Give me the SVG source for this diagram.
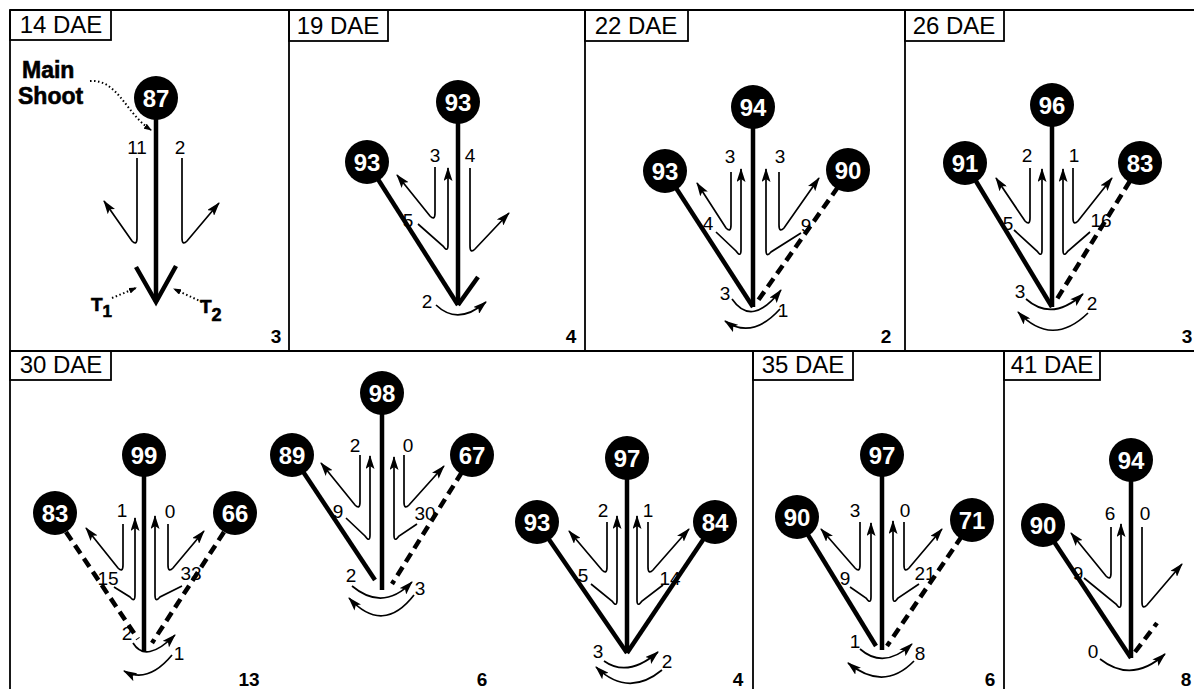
<svg xmlns="http://www.w3.org/2000/svg" width="1194" height="689" viewBox="0 0 1194 689">
<style>
.frame{fill:none;stroke:#000;stroke-width:1.8}
.ttl{font-family:"Liberation Sans",Arial,sans-serif;font-size:24px;fill:#000;text-anchor:middle}
.node circle{fill:#000}
.node text{font-family:"Liberation Sans",Arial,sans-serif;font-weight:bold;font-size:24px;fill:#fff;text-anchor:middle}
.thick{stroke:#000;stroke-width:4.5;fill:none}
.dash{stroke:#000;stroke-width:4.5;fill:none;stroke-dasharray:10 6}
.flow{stroke:#000;stroke-width:1.7;fill:none;marker-end:url(#ah)}
.dot{stroke:#000;stroke-width:2;stroke-dasharray:1.5 2.5;fill:none;marker-end:url(#ahs)}
.lbl{font-family:"Liberation Sans",Arial,sans-serif;font-size:19px;fill:#000;text-anchor:middle}
.cnt{font-family:"Liberation Sans",Arial,sans-serif;font-weight:bold;font-size:19px;fill:#000;text-anchor:middle}
.bold{font-family:"Liberation Sans",Arial,sans-serif;font-weight:bold;fill:#000;stroke:#000;stroke-width:0.6}
</style>
<defs>
<marker id="ah" markerUnits="userSpaceOnUse" viewBox="0 0 14 9" markerWidth="14" markerHeight="9" refX="13" refY="4.5" orient="auto"><path d="M0,0 L14,4.5 L0,9 L3,4.5 z" fill="#000"/></marker>
<marker id="ahs" markerUnits="userSpaceOnUse" viewBox="0 0 8 6" markerWidth="8" markerHeight="6" refX="7" refY="3" orient="auto"><path d="M0,0 L8,3 L0,6 z" fill="#000"/></marker>
</defs>
<rect width="1194" height="689" fill="#fff"/>
<g id="frames">
<path class="frame" d="M10,10 H1194 M10,10 V689 M10,351 H1194 M289,10 V351 M585,10 V351 M905,10 V351 M753,351 V689 M1004,351 V689"/>
<rect class="frame" x="10" y="10" width="101" height="30"/>
<rect class="frame" x="289" y="10" width="99" height="31"/>
<rect class="frame" x="585" y="10" width="103" height="31"/>
<rect class="frame" x="905" y="10" width="99" height="31"/>
<rect class="frame" x="10" y="351" width="101" height="29"/>
<rect class="frame" x="753" y="351" width="100" height="29"/>
<rect class="frame" x="1004" y="351" width="96" height="29"/>
<text class="ttl" x="61" y="33">14 DAE</text>
<text class="ttl" x="338" y="34">19 DAE</text>
<text class="ttl" x="636" y="34">22 DAE</text>
<text class="ttl" x="954" y="34">26 DAE</text>
<text class="ttl" x="61" y="373">30 DAE</text>
<text class="ttl" x="803" y="373">35 DAE</text>
<text class="ttl" x="1052" y="373">41 DAE</text>
</g>
<g id="connectors">
<!-- 14 DAE -->
<line class="thick" x1="156" y1="98" x2="156" y2="302"/>
<polyline class="thick" stroke-width="5" points="136,267 156,302 176,266"/>
<path class="flow" d="M137,158 L137,238 Q137,246 132,241 L104,201"/>
<path class="flow" d="M182,158 L182,238 Q182,246 187,241 L219,203"/>
<path class="dot" d="M90,81 C118,79 126,114 151,130"/>
<path class="dot" d="M112,298 L136,288"/>
<path class="dot" d="M202,302 L174,289"/>
<!-- 19 DAE -->
<line class="thick" x1="458" y1="102" x2="458" y2="305"/>
<line class="thick" x1="367" y1="162" x2="458" y2="305"/>
<line class="thick" stroke-width="5" x1="458" y1="305" x2="478" y2="277"/>
<path class="flow" d="M435,167 L435,213 Q435,221 430,216 L397,175"/>
<path class="flow" d="M418,224 L443,246 Q448,253 448,245 L448,168"/>
<path class="flow" d="M470,168 L470,246 Q470,254 475,249 L509,213"/>
<path class="flow" d="M436,305 Q458,326 486,302"/>
<!-- 22 DAE -->
<line class="thick" x1="753" y1="107" x2="753" y2="307"/>
<line class="thick" x1="665" y1="171" x2="753" y2="307"/>
<line class="dash" x1="838" y1="187" x2="757" y2="302"/>
<path class="flow" d="M731,172 L731,225 Q731,233 726,228 L697,183"/>
<path class="flow" d="M716,232 L736,251 Q741,258 741,250 L741,169"/>
<path class="flow" d="M801,233 L771,252 Q766,258 766,250 L766,169"/>
<path class="flow" d="M779,172 L779,225 Q779,233 784,228 L819,178"/>
<path class="flow" d="M732,299 Q752,328 781,290"/>
<path class="flow" d="M780,309 Q752,340 725,321"/>
<!-- 26 DAE -->
<line class="thick" x1="1052" y1="105" x2="1052" y2="307"/>
<line class="thick" x1="965" y1="163" x2="1052" y2="307"/>
<line class="dash" x1="1130" y1="181" x2="1057" y2="299"/>
<path class="flow" d="M1030,168 L1030,218 Q1030,226 1025,221 L996,178"/>
<path class="flow" d="M1014,230 L1037,251 Q1042,258 1042,250 L1042,169"/>
<path class="flow" d="M1090,232 L1068,251 Q1063,258 1063,250 L1063,169"/>
<path class="flow" d="M1073,168 L1073,218 Q1073,226 1078,221 L1112,178"/>
<path class="flow" d="M1026,299 Q1052,322 1083,294"/>
<path class="flow" d="M1088,313 Q1052,348 1018,312"/>
<!-- 30 DAE a -->
<line class="thick" x1="144" y1="455" x2="144" y2="652"/>
<line class="dash" x1="66" y1="532" x2="138" y2="639"/>
<line class="dash" x1="224" y1="532" x2="152" y2="643"/>
<path class="flow" d="M123,524 L123,565 Q123,573 118,568 L86,528"/>
<path class="flow" d="M114,587 L130,597 Q135,603 135,595 L135,518"/>
<path class="flow" d="M182,586 L160,597 Q155,603 155,595 L155,516"/>
<path class="flow" d="M168,524 L168,565 Q168,573 173,568 L204,531"/>
<path class="flow" d="M133,643 Q146,664 175,635"/>
<path class="flow" d="M172,655 Q148,684 124,671"/>
<!-- 30 DAE b -->
<line class="thick" x1="382" y1="393" x2="382" y2="590"/>
<line class="thick" x1="292" y1="455" x2="375" y2="580"/>
<line class="dash" x1="462" y1="472" x2="392" y2="584"/>
<path class="flow" d="M360,455 L360,502 Q360,510 355,505 L321,463"/>
<path class="flow" d="M346,518 L365,536 Q370,543 370,535 L370,456"/>
<path class="flow" d="M417,524 L399,536 Q394,543 394,535 L394,457"/>
<path class="flow" d="M404,455 L404,502 Q404,510 409,505 L444,466"/>
<path class="flow" d="M352,586 Q383,612 412,582"/>
<path class="flow" d="M414,595 Q383,635 349,598"/>
<!-- 30 DAE c -->
<line class="thick" x1="627" y1="458" x2="627" y2="653"/>
<line class="thick" x1="537" y1="522" x2="627" y2="653"/>
<line class="thick" x1="715" y1="522" x2="627" y2="653"/>
<path class="flow" d="M607,522 L607,567 Q607,575 602,570 L569,531"/>
<path class="flow" d="M591,584 L612,601 Q617,608 617,600 L617,516"/>
<path class="flow" d="M663,585 L642,601 Q637,608 637,600 L637,516"/>
<path class="flow" d="M648,522 L648,567 Q648,575 653,570 L689,529"/>
<path class="flow" d="M604,661 Q628,678 658,652"/>
<path class="flow" d="M662,670 Q628,698 596,667"/>
<!-- 35 DAE -->
<line class="thick" x1="882" y1="455" x2="882" y2="650"/>
<line class="thick" x1="797" y1="517" x2="876" y2="646"/>
<line class="dash" x1="962" y1="536" x2="887" y2="646"/>
<path class="flow" d="M860,522 L860,565 Q860,573 855,568 L821,529"/>
<path class="flow" d="M850,587 L866,598 Q871,605 871,597 L871,523"/>
<path class="flow" d="M919,584 L898,598 Q893,605 893,597 L893,521"/>
<path class="flow" d="M904,522 L904,565 Q904,573 909,568 L942,529"/>
<path class="flow" d="M860,649 Q884,670 912,644"/>
<path class="flow" d="M914,661 Q884,692 848,663"/>
<!-- 41 DAE -->
<line class="thick" x1="1131" y1="460" x2="1131" y2="658"/>
<line class="thick" x1="1043" y1="525" x2="1131" y2="658"/>
<line class="dash" x1="1135" y1="652" x2="1157" y2="623"/>
<path class="flow" d="M1111,527 L1111,573 Q1111,581 1106,576 L1071,533"/>
<path class="flow" d="M1084,578 L1116,604 Q1121,611 1121,603 L1121,524"/>
<path class="flow" d="M1142,527 L1142,602 Q1142,610 1147,605 L1182,564"/>
<path class="flow" d="M1100,659 Q1132,684 1165,654"/>
</g>
<g id="labels">
<text class="bold" font-size="23" x="22" y="78">Main</text>
<text class="bold" font-size="23" x="18" y="104">Shoot</text>
<text class="bold" font-size="19" x="91" y="311">T<tspan font-size="17" dy="6">1</tspan></text>
<text class="bold" font-size="19" x="200" y="313">T<tspan font-size="18" dy="8">2</tspan></text>
<text class="lbl" x="137" y="154">11</text><text class="lbl" x="180" y="154">2</text>
<text class="lbl" x="435" y="162">3</text><text class="lbl" x="470" y="162">4</text><text class="lbl" x="408" y="227">5</text><text class="lbl" x="427" y="308">2</text>
<text class="lbl" x="730" y="163">3</text><text class="lbl" x="780" y="163">3</text><text class="lbl" x="708" y="230">4</text><text class="lbl" x="806" y="232">9</text><text class="lbl" x="725" y="300">3</text><text class="lbl" x="783" y="317">1</text>
<text class="lbl" x="1027" y="162">2</text><text class="lbl" x="1074" y="162">1</text><text class="lbl" x="1008" y="230">5</text><text class="lbl" x="1101" y="227">16</text><text class="lbl" x="1020" y="298">3</text><text class="lbl" x="1092" y="310">2</text>
<text class="lbl" x="122" y="517">1</text><text class="lbl" x="170" y="518">0</text><text class="lbl" x="108" y="585">15</text><text class="lbl" x="191" y="580">33</text><text class="lbl" x="127" y="640">2</text><text class="lbl" x="179" y="660">1</text>
<text class="lbl" x="355" y="452">2</text><text class="lbl" x="408" y="452">0</text><text class="lbl" x="338" y="518">9</text><text class="lbl" x="425" y="520">30</text><text class="lbl" x="351" y="582">2</text><text class="lbl" x="420" y="595">3</text>
<text class="lbl" x="603" y="517">2</text><text class="lbl" x="648" y="517">1</text><text class="lbl" x="583" y="582">5</text><text class="lbl" x="670" y="585">14</text><text class="lbl" x="598" y="658">3</text><text class="lbl" x="667" y="668">2</text>
<text class="lbl" x="855" y="517">3</text><text class="lbl" x="905" y="517">0</text><text class="lbl" x="845" y="585">9</text><text class="lbl" x="925" y="580">21</text><text class="lbl" x="855" y="648">1</text><text class="lbl" x="920" y="660">8</text>
<text class="lbl" x="1110" y="520">6</text><text class="lbl" x="1145" y="520">0</text><text class="lbl" x="1078" y="580">9</text><text class="lbl" x="1093" y="658">0</text>
<text class="cnt" x="276" y="343">3</text><text class="cnt" x="571" y="343">4</text><text class="cnt" x="886" y="343">2</text><text class="cnt" x="1187" y="343">3</text>
<text class="cnt" x="249" y="686">13</text><text class="cnt" x="482" y="686">6</text><text class="cnt" x="738" y="686">4</text><text class="cnt" x="990" y="686">6</text><text class="cnt" x="1186" y="686">8</text>
</g>
<g id="n14-ms" class="node"><circle cx="156" cy="98" r="22"/><text x="156" y="106.5">87</text></g>
<g id="n19-ms" class="node"><circle cx="458" cy="102" r="22"/><text x="458" y="110.5">93</text></g>
<g id="n19-t1" class="node"><circle cx="367" cy="162" r="22"/><text x="367" y="170.5">93</text></g>
<g id="n22-ms" class="node"><circle cx="753" cy="107" r="22"/><text x="753" y="115.5">94</text></g>
<g id="n22-t1" class="node"><circle cx="665" cy="171" r="22"/><text x="665" y="179.5">93</text></g>
<g id="n22-t2" class="node"><circle cx="848" cy="170" r="22"/><text x="848" y="178.5">90</text></g>
<g id="n26-ms" class="node"><circle cx="1052" cy="105" r="22"/><text x="1052" y="113.5">96</text></g>
<g id="n26-t1" class="node"><circle cx="965" cy="163" r="22"/><text x="965" y="171.5">91</text></g>
<g id="n26-t2" class="node"><circle cx="1140" cy="163" r="22"/><text x="1140" y="171.5">83</text></g>
<g id="n30a-ms" class="node"><circle cx="144" cy="455" r="22"/><text x="144" y="463.5">99</text></g>
<g id="n30a-t1" class="node"><circle cx="55" cy="513" r="22"/><text x="55" y="521.5">83</text></g>
<g id="n30a-t2" class="node"><circle cx="235" cy="513" r="22"/><text x="235" y="521.5">66</text></g>
<g id="n30b-ms" class="node"><circle cx="382" cy="393" r="22"/><text x="382" y="401.5">98</text></g>
<g id="n30b-t1" class="node"><circle cx="292" cy="455" r="22"/><text x="292" y="463.5">89</text></g>
<g id="n30b-t2" class="node"><circle cx="472" cy="455" r="22"/><text x="472" y="463.5">67</text></g>
<g id="n30c-ms" class="node"><circle cx="627" cy="458" r="22"/><text x="627" y="466.5">97</text></g>
<g id="n30c-t1" class="node"><circle cx="537" cy="522" r="22"/><text x="537" y="530.5">93</text></g>
<g id="n30c-t2" class="node"><circle cx="715" cy="522" r="22"/><text x="715" y="530.5">84</text></g>
<g id="n35-ms" class="node"><circle cx="882" cy="455" r="22"/><text x="882" y="463.5">97</text></g>
<g id="n35-t1" class="node"><circle cx="797" cy="517" r="22"/><text x="797" y="525.5">90</text></g>
<g id="n35-t2" class="node"><circle cx="972" cy="520" r="22"/><text x="972" y="528.5">71</text></g>
<g id="n41-ms" class="node"><circle cx="1131" cy="460" r="22"/><text x="1131" y="468.5">94</text></g>
<g id="n41-t1" class="node"><circle cx="1043" cy="525" r="22"/><text x="1043" y="533.5">90</text></g>
</svg>
